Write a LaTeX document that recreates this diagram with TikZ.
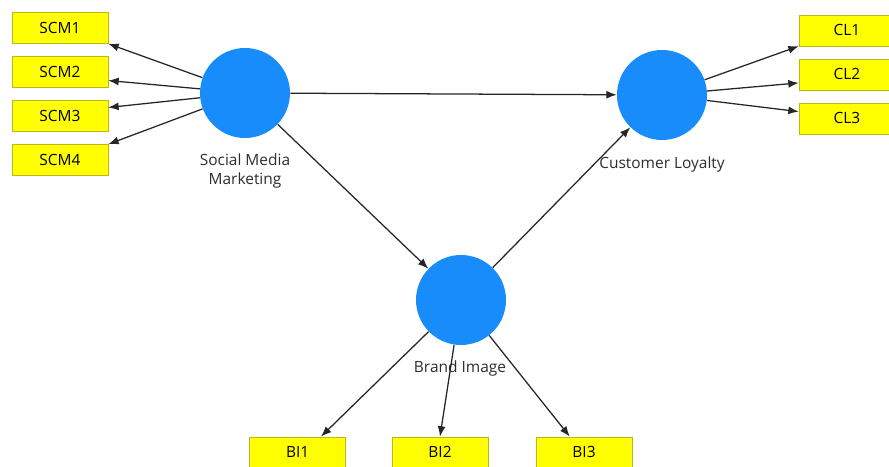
\documentclass[tikz,border=0pt]{standalone}
\usepackage{fontspec}
\setmainfont{Open Sans}
\usetikzlibrary{arrows.meta}

\definecolor{latentblue}{RGB}{24,140,250}
\definecolor{itemyellow}{RGB}{255,255,0}
\definecolor{itemedge}{RGB}{185,185,30}
\definecolor{labelgray}{RGB}{45,45,45}

\begin{document}
\begin{tikzpicture}[
  latent/.style={circle,fill=latentblue,minimum size=2.25cm,inner sep=0pt},
  item/.style={rectangle,draw=itemedge,fill=itemyellow,minimum width=2.4cm,minimum height=0.775cm,inner sep=0pt,font=\fontsize{11}{13}\selectfont},
  caption/.style={align=center,text=labelgray,font=\fontsize{11}{13.5}\selectfont},
  link/.style={draw=black!85,line width=0.9pt,-{Latex[length=0.26cm,width=0.2cm]}}
]
\useasboundingbox (0,0) rectangle (22.225,-11.675);

% Social Media Marketing and its indicators
\node[latent] (smm) at (6.125,-2.325) {};
\node[caption] (smmlabel) at (6.125,-4.28) {Social Media\\Marketing};
\node[item] (scm1) at (1.5,-0.7) {SCM1};
\node[item] (scm2) at (1.5,-1.8) {SCM2};
\node[item] (scm3) at (1.5,-2.9) {SCM3};
\node[item] (scm4) at (1.5,-4.0) {SCM4};
\draw[link] (smm) -- (scm1.south east);
\draw[link] (smm) -- (scm2.-10);
\draw[link] (smm) -- (scm3.10);
\draw[link] (smm) -- (scm4.north east);

% Customer Loyalty and its indicators
\node[latent] (cl) at (16.55,-2.375) {};
\node[caption] (cllabel) at (16.55,-4.1) {Customer Loyalty};
\node[item] (cl1) at (21.175,-0.76) {CL1};
\node[item] (cl2) at (21.175,-1.86) {CL2};
\node[item] (cl3) at (21.175,-2.96) {CL3};
\draw[link] (cl) -- (cl1.south west);
\draw[link] (cl) -- (cl2.190);
\draw[link] (cl) -- (cl3.172);

% Brand Image and its indicators
\node[latent] (bi) at (11.525,-7.5) {};
\node[caption] (bilabel) at (11.5,-9.2) {Brand Image};
\node[item] (bi1) at (7.44,-11.31) {BI1};
\node[item] (bi2) at (11.0,-11.31) {BI2};
\node[item] (bi3) at (14.6,-11.31) {BI3};
\draw[link] (bi) -- (bi1.34);
\draw[link] (bi) -- (bi2.north);
\draw[link] (bi) -- (bi3.132);

% structural paths
\draw[link] (smm) -- (cl);
\draw[link] (smm) -- (bi);
\draw[link] (bi) -- (cl);
\end{tikzpicture}
\end{document}
